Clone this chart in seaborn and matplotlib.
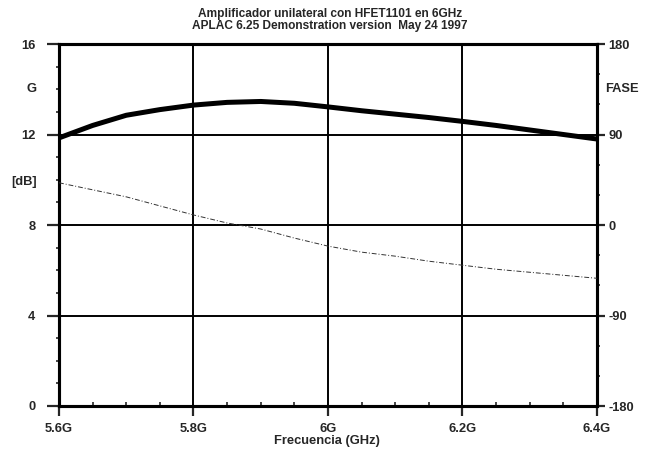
import matplotlib
matplotlib.use("Agg")
import matplotlib.pyplot as plt
from matplotlib.ticker import MultipleLocator, FixedLocator
import pandas as pd
import seaborn as sns

# Frequency sweep (GHz)
freq = [5.60, 5.65, 5.70, 5.75, 5.80, 5.85, 5.90, 5.95, 6.00,
        6.05, 6.10, 6.15, 6.20, 6.25, 6.30, 6.35, 6.40]
# Transducer gain G [dB]
gain_db = [11.85, 12.40, 12.85, 13.10, 13.30, 13.42, 13.46, 13.38, 13.22,
           13.05, 12.90, 12.75, 12.58, 12.40, 12.20, 12.00, 11.80]
# Phase of S21 [deg]
phase_deg = [42, 35, 28, 19, 10, 2, -4, -13, -21,
             -27, -31, -36, -40, -44, -47, -50, -53]

x_ticks = [5.6, 5.8, 6.0, 6.2, 6.4]
x_labels = ["5.6G", "5.8G", "6G", "6.2G", "6.4G"]
y_ticks = [0, 4, 8, 12, 16]
phase_ticks = [-180, -90, 0, 90, 180]
phase_labels = ["-180", "-90", "0", "90", "180"]

df = pd.DataFrame({"f": freq, "G": gain_db, "FASE": phase_deg})

sns.set_style("white")
plt.rcParams["font.family"] = ["Liberation Sans", "DejaVu Sans"]
plt.rcParams["font.weight"] = "bold"

FS = 9.3        # axis text
FS_TITLE = 8.6  # two-line heading

fig = plt.figure(figsize=(6.5, 4.5), dpi=100)
ax = fig.add_axes([59 / 650, 1 - 406 / 450, (597 - 59) / 650, (406 - 44) / 450])
ax2 = ax.twinx()

sns.lineplot(data=df, x="f", y="G", ax=ax, color="black", linewidth=3.6,
             solid_capstyle="butt", zorder=5)
sns.lineplot(data=df, x="f", y="FASE", ax=ax2, color="#333333", linewidth=0.7,
             linestyle=(0, (5, 2, 1, 2)), zorder=5)

ax.set_xlim(5.6, 6.4)
ax.set_ylim(0, 16)
ax2.set_ylim(-180, 180)

ax.xaxis.set_major_locator(FixedLocator(x_ticks))
ax.set_xticklabels(x_labels)
ax.xaxis.set_minor_locator(MultipleLocator(0.05))
ax.yaxis.set_major_locator(FixedLocator(y_ticks))
ax.set_yticklabels([str(v) for v in y_ticks])
ax.yaxis.set_minor_locator(MultipleLocator(1))
ax2.yaxis.set_major_locator(FixedLocator(phase_ticks))
ax2.set_yticklabels(phase_labels)
ax2.yaxis.set_minor_locator(MultipleLocator(30))

ax.grid(True, which="major", color="black", linewidth=1.4)
ax.set_axisbelow(True)

for a in (ax, ax2):
    for s in a.spines.values():
        s.set_linewidth(2.2)
        s.set_color("black")

ax.tick_params(axis="x", which="major", direction="out", length=7, width=1.6,
               pad=5, bottom=True, labelsize=FS)
ax.tick_params(axis="x", which="minor", direction="in", length=3, width=1.2,
               bottom=True)
ax.tick_params(axis="y", which="major", direction="out", length=9, width=1.6,
               pad=8, left=True, labelsize=FS)
ax.tick_params(axis="y", which="minor", direction="out", length=2.5, width=1.2,
               left=True)
ax2.tick_params(axis="y", which="major", direction="out", length=6, width=1.6,
                pad=2, right=True, labelsize=FS)
ax2.tick_params(axis="y", which="minor", direction="out", length=2.5, width=1.2,
                right=True)

ax.set_xlabel("")
ax.set_ylabel("")
ax2.set_ylabel("")

ax.text(-0.041, 14, "G", transform=ax.get_yaxis_transform(), ha="right",
        va="center", fontsize=FS)
ax.text(-0.041, 9.9, "[dB]", transform=ax.get_yaxis_transform(), ha="right",
        va="center", fontsize=FS)
ax2.text(1.015, 135, "FASE", transform=ax2.get_yaxis_transform(), ha="left",
         va="center", fontsize=FS)

fig.text(0.503, 1 - 441 / 450, "Frecuencia (GHz)", ha="center", va="center",
         fontsize=FS)
fig.text(0.508, 0.982, "Amplificador unilateral con HFET1101 en 6GHz\n"
         "APLAC 6.25 Demonstration version  May 24 1997",
         ha="center", va="top", fontsize=FS_TITLE, linespacing=1.0)

fig.savefig("out.png", dpi=100)
